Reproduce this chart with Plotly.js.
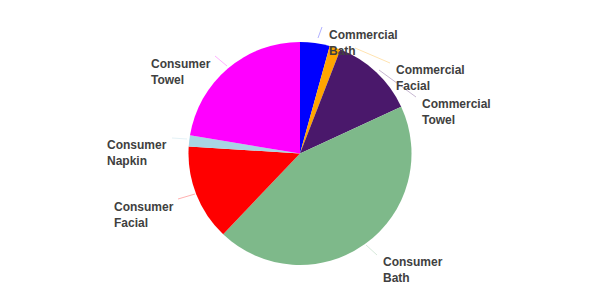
<!DOCTYPE html>
<html>
<head>
<meta charset="utf-8">
<script src="https://cdn.plot.ly/plotly-3.0.1.min.js"></script>
<style>html,body{margin:0;padding:0;background:#fff;}#chart{width:600px;height:286px;}</style>
</head>
<body>
<div id="chart"></div>
<script>
const categories = ["Commercial Bath", "Commercial Facial", "Commercial Towel", "Consumer Bath", "Consumer Facial", "Consumer Napkin", "Consumer Towel"];
const labelText = ["Commercial<br>Bath", "Commercial<br>Facial", "Commercial<br>Towel", "Consumer<br>Bath", "Consumer<br>Facial", "Consumer<br>Napkin", "Consumer<br>Towel"];
const values = [4.3, 1.6, 12.2, 44.0, 13.9, 1.6, 22.4];
const colors = ["#0000ff", "#ffa500", "#4a186b", "#7eb98a", "#ff0000", "#a8d4e4", "#ff00ff"];

const W = 600, H = 286;
const px = x => x / W, py = y => 1 - y / H;

// label placement (pixels): left x, centre y
const labelPos = [[328, 43], [395, 78], [421, 112], [382, 270], [113, 215], [106, 153], [150, 72]];
// leader lines (pixels)
const leaders = [[[322, 27], [318, 38]], [[355, 48], [390, 63]], [[379, 70], [416, 97]], [[366, 245], [377, 255]], [[178, 199], [195, 194]], [[172, 138], [187, 139]], [[215, 56], [227, 66]]];

const annotations = labelText.map((t, i) => ({
  text: t, xref: 'paper', yref: 'paper', x: px(labelPos[i][0]), y: py(labelPos[i][1]),
  xanchor: 'left', yanchor: 'middle', align: 'left', showarrow: false, borderpad: 0,
  font: {family: 'Liberation Sans, Arial, sans-serif', size: 12, color: '#404040', weight: 'bold'}
}));
const shapes = leaders.map((l, i) => ({
  type: 'line', xref: 'paper', yref: 'paper',
  x0: px(l[0][0]), y0: py(l[0][1]), x1: px(l[1][0]), y1: py(l[1][1]),
  line: {color: colors[i], width: 1}, opacity: 0.3
}));

Plotly.newPlot('chart', [{
  type: 'pie', labels: categories, values: values, sort: false, direction: 'clockwise', rotation: 0,
  marker: {colors: colors, line: {width: 0}}, textinfo: 'none', hoverinfo: 'label+percent',
  domain: {x: [188 / W, 412 / W], y: [21 / H, 244 / H]}
}], {
  width: W, height: H, margin: {l: 0, r: 0, t: 0, b: 0}, showlegend: false,
  paper_bgcolor: '#fff', annotations: annotations, shapes: shapes
}, {displayModeBar: false, staticPlot: true});
</script>
</body>
</html>
